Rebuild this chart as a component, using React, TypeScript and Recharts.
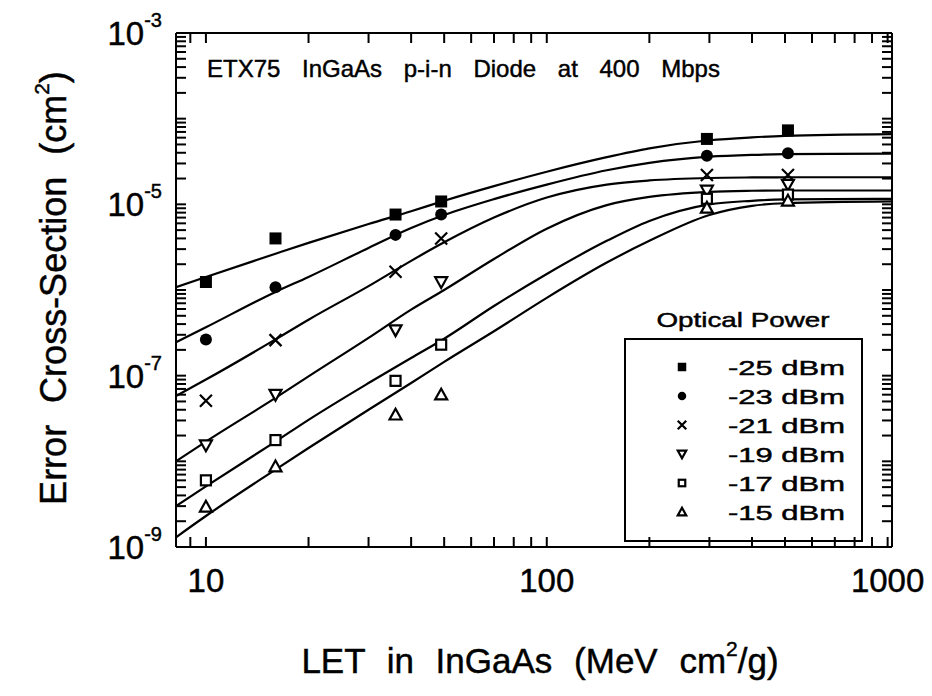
import React from 'react';
import { ComposedChart, Line, Scatter, XAxis, YAxis, Customized } from 'recharts';

const FONT = '"Liberation Sans", Arial, Helvetica, sans-serif';

// ---- data ----
const MEASURED_LET = [10, 16, 36, 49, 295, 510];
const FIT_LET = [8.17, 10, 16, 20, 30, 40, 50, 70, 100, 150, 200, 300, 400, 500, 1030];

const POWER_LABELS = ['-25 dBm', '-23 dBm', '-21 dBm', '-19 dBm', '-17 dBm', '-15 dBm'];
const MARKER_KINDS = ['filledSquare', 'filledCircle', 'cross', 'downTriangle', 'openSquare', 'upTriangle'];

const MEAS_M25 = [1.24e-6, 4.0e-6, 7.6e-6, 1.08e-5, 5.8e-5, 7.3e-5];
const MEAS_M23 = [2.65e-7, 1.08e-6, 4.4e-6, 7.6e-6, 3.7e-5, 3.95e-5];
const MEAS_M21 = [5.1e-8, 2.6e-7, 1.63e-6, 4.0e-6, 2.2e-5, 2.2e-5];
const MEAS_M19 = [1.54e-8, 6.0e-8, 3.4e-7, 1.24e-6, 1.45e-5, 1.7e-5];
const MEAS_M17 = [6.0e-9, 1.77e-8, 8.7e-8, 2.3e-7, 1.16e-5, 1.3e-5];
const MEAS_M15 = [2.95e-9, 8.7e-9, 3.5e-8, 6.0e-8, 9.1e-6, 1.1e-5];

const FIT_M25 = [1.08e-6, 1.42e-6, 2.65e-6, 3.55e-6, 5.9e-6, 8.3e-6, 1.1e-5, 1.63e-5, 2.4e-5, 3.55e-5, 4.5e-5, 5.6e-5, 6.05e-5, 6.3e-5, 6.6e-5];
const FIT_M23 = [2.45e-7, 3.67e-7, 9.5e-7, 1.42e-6, 3.1e-6, 5.3e-6, 7.5e-6, 1.15e-5, 1.7e-5, 2.5e-5, 3.05e-5, 3.6e-5, 3.78e-5, 3.85e-5, 3.9e-5];
const FIT_M21 = [5.8e-8, 9.0e-8, 2.65e-7, 4.5e-7, 1.11e-6, 2.19e-6, 3.6e-6, 7.0e-6, 1.2e-5, 1.7e-5, 1.9e-5, 2.03e-5, 2.06e-5, 2.07e-5, 2.07e-5];
const FIT_M19 = [1.0e-8, 1.7e-8, 5.5e-8, 9.8e-8, 2.76e-7, 5.9e-7, 1.0e-6, 2.3e-6, 5.2e-6, 9.8e-6, 1.22e-5, 1.4e-5, 1.44e-5, 1.45e-5, 1.45e-5];
const FIT_M17 = [3.0e-9, 5.1e-9, 1.7e-8, 3.05e-8, 8.2e-8, 1.61e-7, 2.7e-7, 6.5e-7, 1.54e-6, 3.75e-6, 6.4e-6, 1.0e-5, 1.1e-5, 1.14e-5, 1.16e-5];
const FIT_M15 = [1.3e-9, 2.3e-9, 8.0e-9, 1.43e-8, 4.0e-8, 8.2e-8, 1.45e-7, 3.3e-7, 8.1e-7, 2.09e-6, 3.75e-6, 7.5e-6, 9.6e-6, 1.03e-5, 1.08e-5];

const MEASURED = [MEAS_M25, MEAS_M23, MEAS_M21, MEAS_M19, MEAS_M17, MEAS_M15];
const FITS = [FIT_M25, FIT_M23, FIT_M21, FIT_M19, FIT_M17, FIT_M15];

const X_DOMAIN = [8.17, 1030];
const Y_DOMAIN = [1e-9, 1e-3];
const X_TICK_VALUES = [9, 10, 20, 30, 40, 50, 60, 70, 80, 90, 100, 200, 300, 400, 500, 600, 700, 800, 900, 1000];
const X_TICK_LABELS = [10, 100, 1000];
const Y_DECADES = [-9, -8, -7, -6, -5, -4, -3];
const Y_LABEL_EXPONENTS = [-9, -7, -5, -3];
const MINOR_MULTIPLIERS = [1, 2, 3, 4, 5, 6, 7, 8, 9];
const Y_TICK_VALUES = Y_DECADES.flatMap((e) =>
  (e === -3 ? [1] : MINOR_MULTIPLIERS).map((m) => m * Math.pow(10, e))
);

const TITLE = 'ETX75 InGaAs p-i-n Diode at 400 Mbps';
const LEGEND_TITLE = 'Optical Power';

const TEXT_STROKE = 0.45;

// ---- markers ----
function MarkerGlyph({ kind, cx, cy, s }: { kind: string; cx: number; cy: number; s: number }) {
  const h = s / 2;
  const sw = 2.2;
  switch (kind) {
    case 'filledSquare':
      return <rect x={cx - h} y={cy - h} width={s} height={s} fill="#000" />;
    case 'filledCircle':
      return <circle cx={cx} cy={cy} r={h} fill="#000" />;
    case 'cross':
      return (
        <path
          d={`M${cx - h},${cy - h}L${cx + h},${cy + h}M${cx - h},${cy + h}L${cx + h},${cy - h}`}
          stroke="#000"
          strokeWidth={sw}
          fill="none"
        />
      );
    case 'downTriangle':
      return (
        <path
          d={`M${cx - h},${cy - h * 0.8}L${cx + h},${cy - h * 0.8}L${cx},${cy + h}Z`}
          fill="#fff"
          stroke="#000"
          strokeWidth={sw}
        />
      );
    case 'openSquare':
      return <rect x={cx - h + 1} y={cy - h + 1} width={s - 2} height={s - 2} fill="#fff" stroke="#000" strokeWidth={sw} />;
    case 'upTriangle':
      return (
        <path
          d={`M${cx - h},${cy + h * 0.8}L${cx + h},${cy + h * 0.8}L${cx},${cy - h}Z`}
          fill="#fff"
          stroke="#000"
          strokeWidth={sw}
        />
      );
    default:
      return null;
  }
}

// ---- ticks ----
const TICK_LEN = 10;
const isLabelX = (v: number) => X_TICK_LABELS.some((t) => Math.abs(t - v) < 1e-9);
const decadeExp = (v: number) => {
  const e = Math.round(Math.log10(v));
  return Math.abs(v / Math.pow(10, e) - 1) < 1e-6 ? e : null;
};

const BottomTick = (props: any) => {
  const { x, y, payload } = props;
  const v = payload.value;
  return (
    <g>
      <line x1={x} x2={x} y1={y} y2={y - TICK_LEN} stroke="#000" strokeWidth={2} />
      {isLabelX(v) && (
        <text
          x={x}
          y={y + 45}
          textAnchor="middle"
          fontSize={33}
          fontFamily={FONT}
          fill="#000"
          stroke="#000"
          strokeWidth={TEXT_STROKE}
        >
          {v}
        </text>
      )}
    </g>
  );
};

const TopTick = (props: any) => {
  const { x, y } = props;
  return <line x1={x} x2={x} y1={y} y2={y + TICK_LEN} stroke="#000" strokeWidth={2} />;
};

const LeftTick = (props: any) => {
  const { x, y, payload } = props;
  const e = decadeExp(payload.value);
  const showLabel = e !== null && Y_LABEL_EXPONENTS.includes(e);
  return (
    <g>
      <line x1={x} x2={x + TICK_LEN} y1={y} y2={y} stroke="#000" strokeWidth={2} />
      {showLabel && (
        <text
          x={x - 14}
          y={y + 12}
          textAnchor="end"
          fontSize={33}
          fontFamily={FONT}
          fill="#000"
          stroke="#000"
          strokeWidth={TEXT_STROKE}
        >
          <tspan>10</tspan>
          <tspan dy={-18} fontSize={20}>{String(e)}</tspan>
        </text>
      )}
    </g>
  );
};

const RightTick = (props: any) => {
  const { x, y } = props;
  return <line x1={x} x2={x - TICK_LEN} y1={y} y2={y} stroke="#000" strokeWidth={2} />;
};

// ---- overlay: title, legend, axis titles ----
const Overlay = () => {
  const rowY = [367, 396, 425, 454, 483, 512];
  return (
    <g fontFamily={FONT} fill="#000">
      <text x={207} y={77} fontSize={24} wordSpacing={15} stroke="#000" strokeWidth={TEXT_STROKE}>
        {TITLE}
      </text>

      <text
        x={743}
        y={327}
        fontSize={21}
        textAnchor="middle"
        textLength={173}
        lengthAdjust="spacingAndGlyphs"
        stroke="#000"
        strokeWidth={TEXT_STROKE}
      >
        {LEGEND_TITLE}
      </text>
      <rect x={625} y={339} width={237} height={202} fill="#fff" stroke="#000" strokeWidth={2} />
      {POWER_LABELS.map((label, i) => (
        <g key={label}>
          <MarkerGlyph kind={MARKER_KINDS[i]} cx={682} cy={rowY[i]} s={8.5} />
          <text
            x={728}
            y={rowY[i] + 8}
            fontSize={21}
            textLength={117}
            lengthAdjust="spacingAndGlyphs"
            stroke="#000"
            strokeWidth={TEXT_STROKE}
          >
            {label}
          </text>
        </g>
      ))}

      <text
        x={540}
        y={673}
        fontSize={35}
        textAnchor="middle"
        wordSpacing={12}
        stroke="#000"
        strokeWidth={TEXT_STROKE}
      >
        <tspan>LET in InGaAs (MeV cm</tspan>
        <tspan dy={-17} fontSize={21}>2</tspan>
        <tspan dy={17}>/g)</tspan>
      </text>

      <text
        x={0}
        y={0}
        fontSize={36}
        textAnchor="middle"
        wordSpacing={12}
        stroke="#000"
        strokeWidth={TEXT_STROKE}
        transform="translate(66,288) rotate(-90)"
      >
        <tspan>Error Cross-Section (cm</tspan>
        <tspan dy={-17} fontSize={21}>2</tspan>
        <tspan dy={17}>)</tspan>
      </text>
    </g>
  );
};

export default function App() {
  return (
    <div style={{ position: 'absolute', left: 0, top: 0, width: 932, height: 696, background: '#fff' }}>
      <ComposedChart width={932} height={696} margin={{ top: 0, right: 0, bottom: 0, left: 0 }}>
        <XAxis
          dataKey="x"
          type="number"
          scale="log"
          domain={X_DOMAIN}
          allowDataOverflow
          ticks={X_TICK_VALUES}
          interval={0}
          tickSize={0}
          tickMargin={0}
          tickLine={false}
          axisLine={{ stroke: '#000', strokeWidth: 2 }}
          height={149}
          tick={BottomTick}
        />
        <XAxis
          xAxisId="top"
          orientation="top"
          dataKey="x"
          type="number"
          scale="log"
          domain={X_DOMAIN}
          allowDataOverflow
          ticks={X_TICK_VALUES}
          interval={0}
          tickSize={0}
          tickMargin={0}
          tickLine={false}
          axisLine={{ stroke: '#000', strokeWidth: 2 }}
          height={33}
          tick={TopTick}
        />
        <YAxis
          type="number"
          scale="log"
          domain={Y_DOMAIN}
          allowDataOverflow
          ticks={Y_TICK_VALUES}
          interval={0}
          tickSize={0}
          tickMargin={0}
          tickLine={false}
          axisLine={{ stroke: '#000', strokeWidth: 2 }}
          width={176}
          tick={LeftTick}
        />
        <YAxis
          yAxisId="right"
          orientation="right"
          type="number"
          scale="log"
          domain={Y_DOMAIN}
          allowDataOverflow
          ticks={Y_TICK_VALUES}
          interval={0}
          tickSize={0}
          tickMargin={0}
          tickLine={false}
          axisLine={{ stroke: '#000', strokeWidth: 2 }}
          width={40}
          tick={RightTick}
        />
        {FITS.map((fit, i) => (
          <Line
            key={`fit${i}`}
            data={fit.map((y, j) => ({ x: FIT_LET[j], y }))}
            dataKey="y"
            type="monotone"
            stroke="#000"
            strokeWidth={2.2}
            dot={false}
            activeDot={false}
            isAnimationActive={false}
          />
        ))}
        {MEASURED.map((meas, i) => (
          <Scatter
            key={`meas${i}`}
            data={meas.map((y, j) => ({ x: MEASURED_LET[j], y }))}
            dataKey="y"
            isAnimationActive={false}
            shape={(p: any) => <MarkerGlyph kind={MARKER_KINDS[i]} cx={p.cx} cy={p.cy} s={12} />}
          />
        ))}
        <Customized component={Overlay} />
      </ComposedChart>
    </div>
  );
}
